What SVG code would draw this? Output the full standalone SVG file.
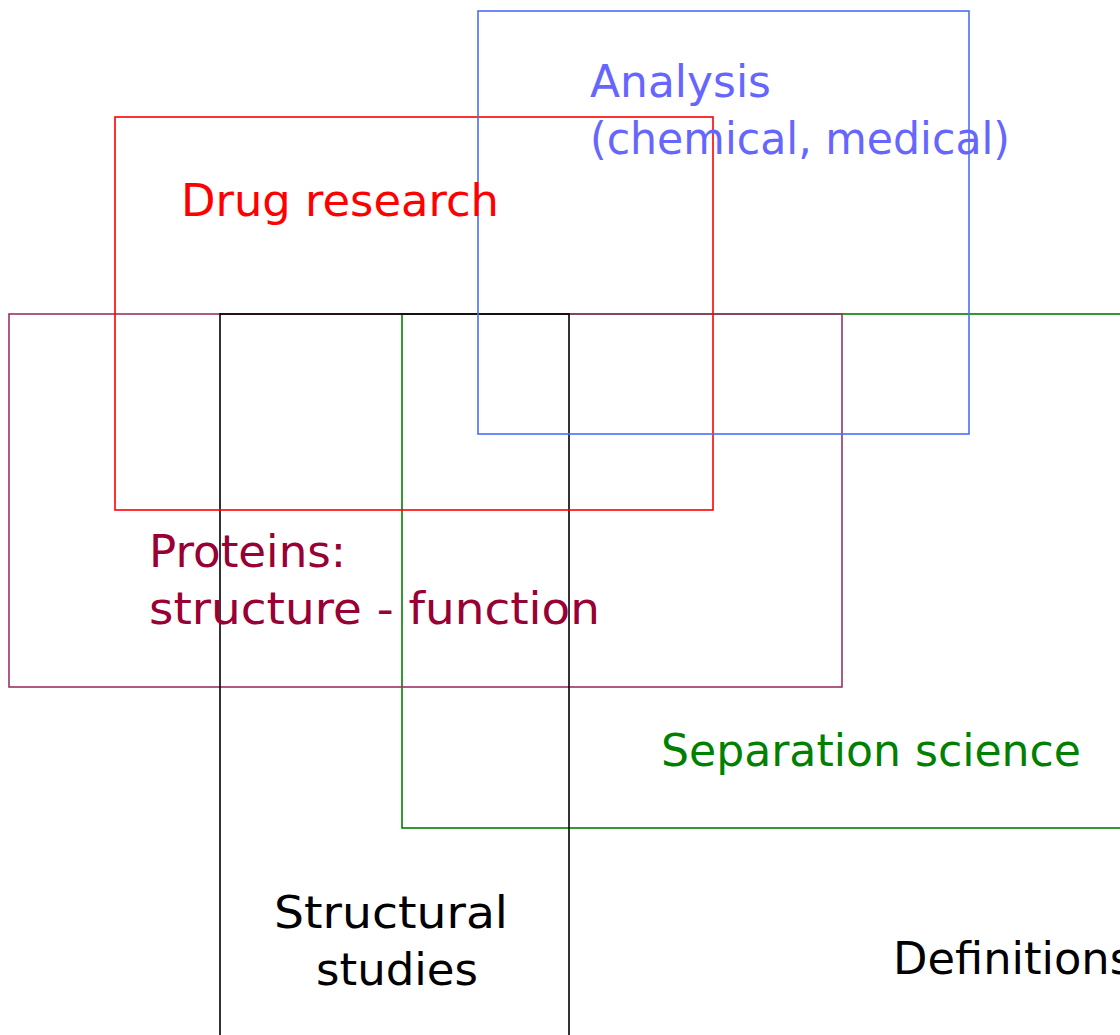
<svg xmlns="http://www.w3.org/2000/svg" width="1120" height="1035" viewBox="0 0 1120 1035">
<style>
rect{fill:none;stroke-width:1.6}
text{font-family:"Comic Sans MS","DejaVu Sans","Liberation Sans",sans-serif;font-size:44px}
</style>
<rect width="1120" height="1035" fill="#ffffff" stroke="none"/>
<g id="separation"><rect x="402" y="314" width="730" height="514" stroke="#008000"/></g>
<g id="proteins"><rect x="9" y="314" width="833" height="373" stroke="#993366"/></g>
<g id="structural"><rect x="220" y="314" width="349" height="740" stroke="#000000" stroke-width="1.8"/></g>
<g id="drug"><rect x="115" y="117" width="598" height="393" stroke="#ff0000"/></g>
<g id="analysis"><rect x="478" y="11" width="491" height="423" stroke="#4a6ef5"/></g>
<g id="labels">
<text x="590" y="97" fill="#6666ff" textLength="181" lengthAdjust="spacingAndGlyphs">Analysis</text>
<text x="590" y="154" fill="#6666ff" textLength="420" lengthAdjust="spacingAndGlyphs">(chemical, medical)</text>
<text x="181" y="216" fill="#ff0000" textLength="318" lengthAdjust="spacingAndGlyphs">Drug research</text>
<text x="149" y="567" fill="#990033" textLength="197" lengthAdjust="spacingAndGlyphs">Proteins:</text>
<text x="149" y="624" fill="#990033" textLength="451" lengthAdjust="spacingAndGlyphs">structure - function</text>
<text x="661" y="766" fill="#008000" textLength="420" lengthAdjust="spacingAndGlyphs">Separation science</text>
<text x="274" y="928" fill="#000000" textLength="234" lengthAdjust="spacingAndGlyphs">Structural</text>
<text x="316" y="985" fill="#000000" textLength="162" lengthAdjust="spacingAndGlyphs">studies</text>
<text x="893" y="974" fill="#000000" textLength="240" lengthAdjust="spacingAndGlyphs">Definitions</text>
</g>
<g id="connectors"></g>
</svg>
